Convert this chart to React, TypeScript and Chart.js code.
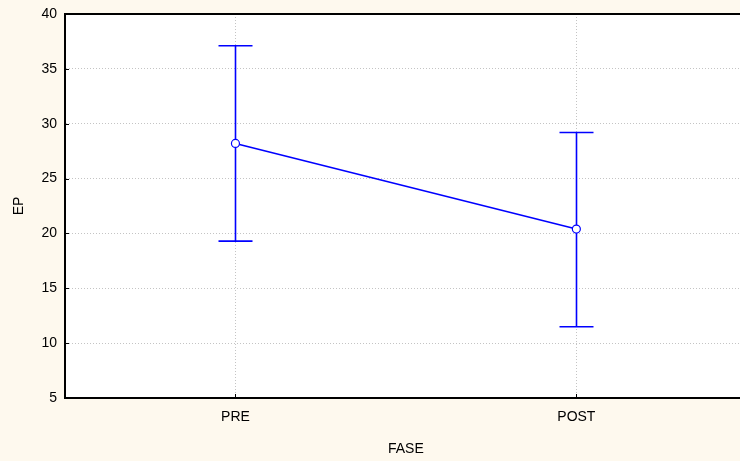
import React, { useEffect, useRef } from "react";
import { Chart, registerables } from "chart.js";

Chart.register(...registerables);

const categories = ["PRE", "POST"];
const means = [28.2, 20.4];
const upper = [37.1, 29.2];
const lower = [19.3, 11.5];
const yMin = 5;
const yMax = 40;
const yStep = 5;
const xTitle = "FASE";
const yTitle = "EP";

const BLUE = "#0000ff";
const BG = "#fef9ee";

const bgPlugin = {
  id: "bgPlugin",
  beforeDraw(chart: any) {
    const { ctx, chartArea } = chart;
    ctx.save();
    ctx.fillStyle = BG;
    ctx.fillRect(0, 0, chart.width, chart.height);
    ctx.fillStyle = "#ffffff";
    ctx.fillRect(chartArea.left, chartArea.top, chartArea.right - chartArea.left, chartArea.bottom - chartArea.top);
    ctx.restore();
  },
  afterDraw(chart: any) {
    const { ctx, chartArea } = chart;
    ctx.save();
    ctx.strokeStyle = "#000000";
    ctx.lineWidth = 2;
    ctx.beginPath();
    ctx.moveTo(chartArea.left, chartArea.top);
    ctx.lineTo(chartArea.right, chartArea.top);
    ctx.stroke();
    const xs = chart.scales.x;
    const ys = chart.scales.y;
    ctx.lineWidth = 1;
    categories.forEach((_, i) => {
      const px = Math.round(xs.getPixelForValue(i)) + 0.5;
      ctx.beginPath();
      ctx.moveTo(px, chartArea.bottom);
      ctx.lineTo(px, chartArea.bottom - 4);
      ctx.stroke();
    });
    for (let v = yMin + yStep; v < yMax; v += yStep) {
      const py = Math.round(ys.getPixelForValue(v)) + 0.5;
      ctx.beginPath();
      ctx.moveTo(chartArea.left, py);
      ctx.lineTo(chartArea.left + 4, py);
      ctx.stroke();
    }
    ctx.restore();
  },
};

const errorBarPlugin = {
  id: "errorBarPlugin",
  beforeDatasetsDraw(chart: any) {
    const { ctx } = chart;
    const xs = chart.scales.x;
    const ys = chart.scales.y;
    ctx.save();
    ctx.strokeStyle = BLUE;
    ctx.lineWidth = 1.6;
    const cap = 17;
    categories.forEach((_, i) => {
      const px = Math.round(xs.getPixelForValue(i)) + 0.5;
      const yu = ys.getPixelForValue(upper[i]);
      const yl = ys.getPixelForValue(lower[i]);
      ctx.beginPath();
      ctx.moveTo(px, yu);
      ctx.lineTo(px, yl);
      ctx.moveTo(px - cap, yu);
      ctx.lineTo(px + cap, yu);
      ctx.moveTo(px - cap, yl);
      ctx.lineTo(px + cap, yl);
      ctx.stroke();
    });
    ctx.restore();
  },
};

export default function App() {
  const ref = useRef<HTMLCanvasElement | null>(null);

  useEffect(() => {
    document.body.style.margin = "0";
    document.body.style.overflow = "hidden";
    Chart.defaults.font.family = "'Liberation Sans', Arial, sans-serif";
    Chart.defaults.color = "#000000";
    const chart = new Chart(ref.current as HTMLCanvasElement, {
      type: "line",
      data: {
        labels: categories,
        datasets: [
          {
            data: means,
            borderColor: BLUE,
            borderWidth: 1.6,
            pointRadius: 4,
            pointBackgroundColor: "#ffffff",
            pointBorderColor: BLUE,
            pointBorderWidth: 1.2,
            tension: 0,
          },
        ],
      },
      options: {
        responsive: false,
        animation: false,
        layout: { padding: { top: 14, right: 0, left: 0, bottom: 0 } },
        plugins: {
          legend: { display: false },
          tooltip: { enabled: false },
        },
        scales: {
          x: {
            type: "category",
            offset: true,
            grid: {
              display: true,
              color: "#c4c4c4",
              drawTicks: true,
              tickLength: 11,
              tickColor: "rgba(0,0,0,0)",
              offset: false,
            },
            border: { display: true, color: "#000000", width: 2, dash: [1, 2] as any },
            ticks: { padding: 0, font: { size: 14 } },
            title: { display: true, text: xTitle, font: { size: 14 }, padding: { top: 0, bottom: 3 } },
            afterFit(scale: any) {
              scale.height = 63;
            },
          },
          y: {
            min: yMin,
            max: yMax,
            grid: { color: "#c4c4c4", drawTicks: true, tickLength: 8, tickColor: "rgba(0,0,0,0)" },
            border: { display: true, color: "#000000", width: 2, dash: [1, 2] as any },
            ticks: { stepSize: yStep, padding: 0, font: { size: 14 } },
            title: { display: true, text: yTitle, font: { size: 14 }, padding: { top: 11, bottom: 0 } },
            afterFit(scale: any) {
              scale.width = 65;
            },
          },
        },
      },
      plugins: [bgPlugin, errorBarPlugin],
    } as any);
    return () => chart.destroy();
  }, []);

  return (
    <div style={{ position: "fixed", left: 0, top: 0, width: 740, height: 461, overflow: "hidden", background: BG }}>
      <canvas ref={ref} width={752} height={461} style={{ display: "block", width: 752, height: 461 }} />
    </div>
  );
}
